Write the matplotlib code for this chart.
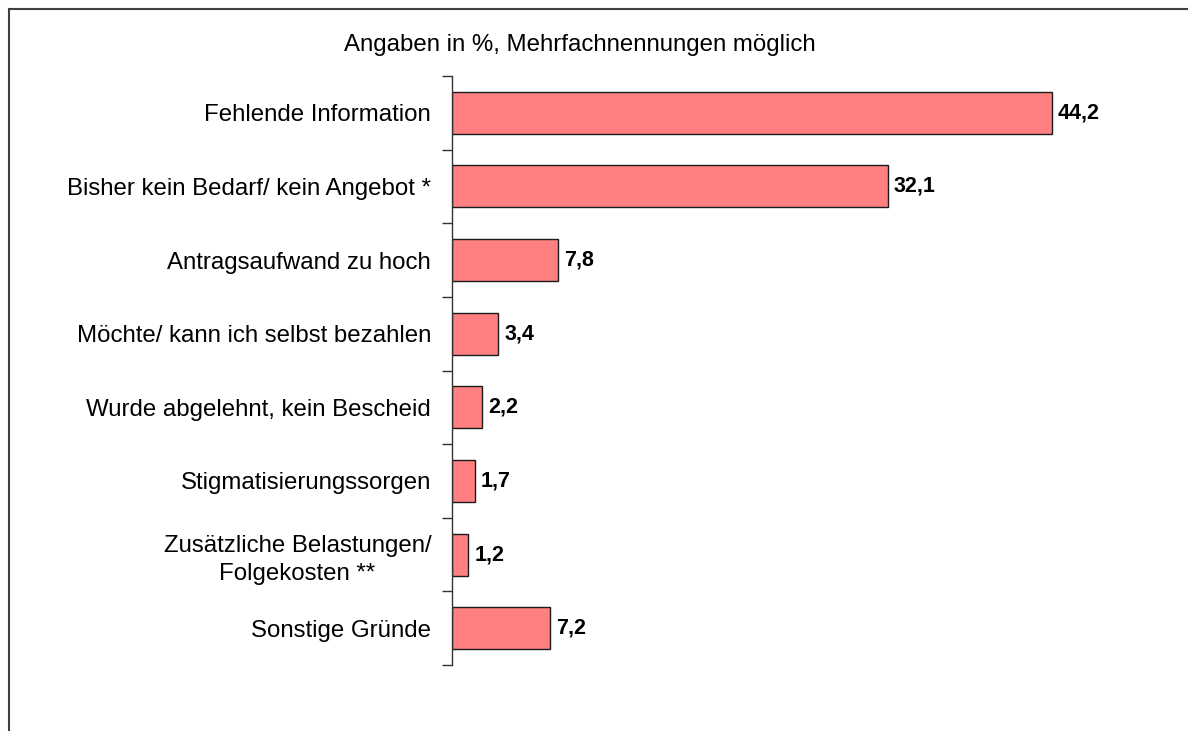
import matplotlib
matplotlib.use('Agg')
import matplotlib.pyplot as plt
from matplotlib.lines import Line2D

plt.rcParams['font.family'] = ['Liberation Sans', 'DejaVu Sans']

categories = [
    'Fehlende Information',
    'Bisher kein Bedarf/ kein Angebot *',
    'Antragsaufwand zu hoch',
    'Möchte/ kann ich selbst bezahlen',
    'Wurde abgelehnt, kein Bescheid',
    'Stigmatisierungssorgen',
    'Zusätzliche Belastungen/\nFolgekosten **',
    'Sonstige Gründe',
]
values = [44.2, 32.1, 7.8, 3.4, 2.2, 1.7, 1.2, 7.2]
value_labels = ['44,2', '32,1', '7,8', '3,4', '2,2', '1,7', '1,2', '7,2']
subtitle = 'Angaben in %, Mehrfachnennungen möglich'

W, H = 1188, 731
fig = plt.figure(figsize=(W / 100, H / 100), dpi=100)

# axes placed in pixel terms (from top-left of the picture)
left, right, top, bottom = 452, 1170, 76, 665
ax = fig.add_axes([left / W, 1 - bottom / H, (right - left) / W, (bottom - top) / H])

pos = list(range(len(categories)))
ax.barh(pos, values, height=0.57, color='#FF8080', edgecolor='#1a1a1a', linewidth=1.0)

xmax = (right - left) / 13.57
ax.set_xlim(0, xmax)
ax.set_ylim(len(categories) - 0.5, -0.5)

for p, v, lab in zip(pos, values, value_labels):
    ax.annotate(lab, (v, p), xytext=(6, 0), textcoords='offset pixels',
                ha='left', va='center', fontsize=15.5, fontweight='bold')

ax.set_yticks(pos)
ax.set_yticklabels(categories, fontsize=17.3)
for t in ax.get_yticklabels():
    t.set_multialignment('center')
    t.set_linespacing(1.35)
ax.tick_params(axis='y', which='major', length=0, pad=15)
ax.set_yticks([p - 0.5 for p in pos] + [len(pos) - 0.5], minor=True)
ax.tick_params(axis='y', which='minor', length=7, width=1, color='#333333', direction='out')
ax.set_xticks([])

for s in ['top', 'right', 'bottom']:
    ax.spines[s].set_visible(False)
ax.spines['left'].set_color('#333333')
ax.spines['left'].set_linewidth(1)

fig.text(580 / W, 1 - 45 / H, subtitle, ha='center', va='center', fontsize=17.3)

# outer frame (clipped at right and bottom in the original)
frame_col = '#404040'
fig.add_artist(Line2D([9 / W, 1], [1 - 9 / H, 1 - 9 / H], color=frame_col, lw=1.5))
fig.add_artist(Line2D([9 / W, 9 / W], [0, 1 - 9 / H], color=frame_col, lw=1.5))

fig.savefig('out.png', dpi=100)
